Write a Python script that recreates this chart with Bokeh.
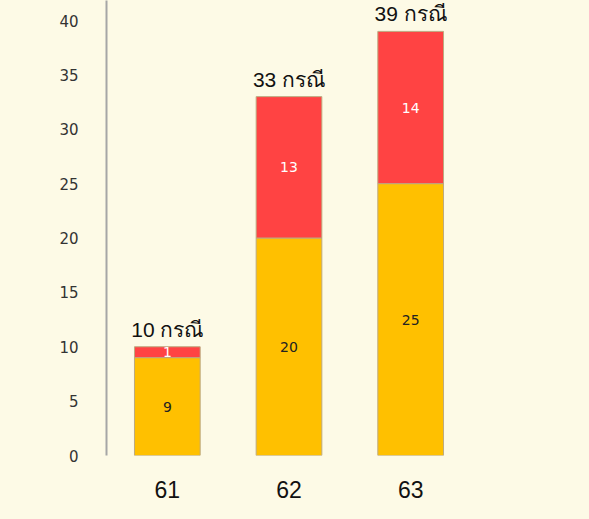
from bokeh.plotting import figure
from bokeh.models import ColumnDataSource, FactorRange, Range1d, FixedTicker, LabelSet, GlobalInlineStyleSheet
from bokeh.core.properties import value
from bokeh.embed import file_html
from bokeh.resources import INLINE

# ---- data ----
categories = ["61", "62", "63"]
yellow_vals = [9, 20, 25]
red_vals = [1, 13, 14]
y_ticks = [0, 5, 10, 15, 20, 25, 30, 35, 40]
unit = "กรณี"

BG = "#FDFAE6"
YELLOW = "#FFC000"
RED = "#FF4343"
BORDER = "#BCAA80"

totals = [a + b for a, b in zip(yellow_vals, red_vals)]
src = ColumnDataSource(dict(
    cat=categories,
    yellow=yellow_vals,
    red=red_vals,
    y_mid=[a / 2 for a in yellow_vals],
    r_mid=[a + b / 2 for a, b in zip(yellow_vals, red_vals)],
    total=totals,
    y_txt=[str(v) for v in yellow_vals],
    r_txt=[str(v) for v in red_vals],
    t_txt=[f"{t} {unit}" for t in totals],
))

p = figure(
    x_range=FactorRange(*categories, range_padding=0),
    y_range=Range1d(0, 41.84),
    width=589, height=519,
    output_backend="svg", toolbar_location=None,
    min_border_left=106, min_border_right=118, min_border_top=0, min_border_bottom=64,
    background_fill_color=BG, border_fill_color=BG, outline_line_color=None,
)
p.stylesheets = [GlobalInlineStyleSheet(css="html, body { background-color: #FDFAE6; }")]
p.grid.visible = False

p.vbar_stack(["yellow", "red"], x="cat", width=0.54, source=src,
             fill_color=[YELLOW, RED], line_color=BORDER, line_width=1)

p.add_layout(LabelSet(source=src, x="cat", y="y_mid", text="y_txt", text_color="#222222",
                      text_font=value("DejaVu Sans"), text_font_size="14px",
                      text_align="center", text_baseline="middle"))
p.add_layout(LabelSet(source=src, x="cat", y="r_mid", text="r_txt", text_color="#FFFFFF",
                      text_font=value("DejaVu Sans"), text_font_size="14px",
                      text_align="center", text_baseline="middle"))
p.add_layout(LabelSet(source=src, x="cat", y="total", text="t_txt", text_color="#111111",
                      text_font=value("Liberation Sans"), text_font_size="21px",
                      text_align="center", text_baseline="alphabetic", y_offset=10))

ya = p.yaxis[0]
ya.ticker = FixedTicker(ticks=y_ticks)
ya.axis_line_color = "#A6A6A6"
ya.axis_line_width = 2
ya.major_tick_line_color = None
ya.minor_tick_line_color = None
ya.major_label_standoff = 22
ya.major_label_text_font = "DejaVu Sans"
ya.major_label_text_font_size = "15px"
ya.major_label_text_color = "#333333"

xa = p.xaxis[0]
xa.axis_line_color = None
xa.major_tick_line_color = None
xa.minor_tick_line_color = None
xa.major_label_standoff = 19
xa.major_label_text_font = "Liberation Sans"
xa.major_label_text_font_size = "23px"
xa.major_label_text_color = "#111111"

open("out.html", "w").write(file_html(p, INLINE))
